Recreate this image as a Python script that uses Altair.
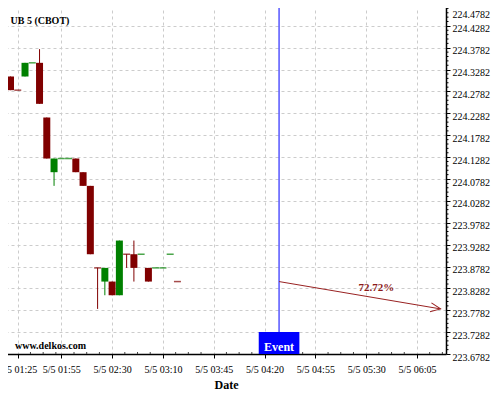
import altair as alt
import pandas as pd

# ---- data ----
opens  = [224.3125, 224.28125, 224.3125, 224.34375, 224.34375, 224.21875, 224.09375, 224.125,
          224.125, 224.125, 224.09375, 224.0625, 223.875, 223.84375, 223.84375, 223.8125,
          223.90625, 223.90625, 223.90625, 223.875, 223.875, 223.875, 223.90625, 223.84375]
highs  = [224.3125, 224.28125, 224.34375, 224.34375, 224.375, 224.21875, 224.125, 224.125,
          224.125, 224.125, 224.09375, 224.0625, 223.875, 223.875, 223.84375, 223.9375,
          223.90625, 223.9375, 223.90625, 223.875, 223.875, 223.875, 223.90625, 223.84375]
lows   = [224.28125, 224.28125, 224.3125, 224.34375, 224.25, 224.125, 224.0625, 224.125,
          224.125, 224.09375, 224.0625, 223.90625, 223.78125, 223.8125, 223.8125, 223.8125,
          223.875, 223.84375, 223.90625, 223.84375, 223.875, 223.875, 223.90625, 223.84375]
closes = [224.28125, 224.28125, 224.34375, 224.34375, 224.25, 224.125, 224.125, 224.125,
          224.125, 224.09375, 224.0625, 223.90625, 223.875, 223.875, 223.8125, 223.9375,
          223.90625, 223.875, 223.90625, 223.84375, 223.875, 223.875, 223.90625, 223.84375]
dirs   = ["d", "d", "u", "u", "d", "d", "u", "u", "u", "d", "d", "d",
          "d", "u", "d", "u", "d", "d", "u", "d", "u", "u", "u", "d"]

tick_pos    = [1, 7, 14, 21, 28, 35, 42, 49, 56]
tick_labels = ["5/5 01:25", "5/5 01:55", "5/5 02:30", "5/5 03:10", "5/5 03:45",
               "5/5 04:20", "5/5 04:55", "5/5 05:30", "5/5 06:05"]
y_ticks = [223.6782, 223.7282, 223.7782, 223.8282, 223.8782, 223.9282, 223.9782, 224.0282,
           224.0782, 224.1282, 224.1782, 224.2282, 224.2782, 224.3282, 224.3782, 224.4282, 224.4782]

event_idx = 37
event_label = "Event"
arrow_x = [37, 59.25]
arrow_y = [223.84375, 223.78125]
pct_label = "72.72%"
pct_x, pct_y = 50.4, 223.828
title_text = "UB 5 (CBOT)"
site_text = "www.delkos.com"

X_DOMAIN = [-0.62, 60]
Y_DOMAIN = [223.6782, 224.4782]
W, H = 440, 350
FONT = "Liberation Serif"
RED, GREEN, BLUE = "#800000", "#008000", "#0000ff"

df = pd.DataFrame({"i": list(range(len(opens))), "open": opens, "high": highs,
                   "low": lows, "close": closes, "dir": dirs})

xs = alt.Scale(domain=X_DOMAIN, nice=False, zero=False, padding=0)
ys = alt.Scale(domain=Y_DOMAIN, nice=False, zero=False, padding=0)
cs = alt.Scale(domain=["u", "d"], range=[GREEN, RED])

label_expr = "{" + ",".join(f"'{p}':'{l}'" for p, l in zip(tick_pos, tick_labels)) + "}[datum.value]"

x_axis = alt.Axis(values=tick_pos, labelExpr=label_expr, title="Date", grid=True,
                  gridDash=[3, 3], gridColor="#cccccc", gridWidth=1,
                  domainColor="black", domainWidth=1.5, tickColor="black", tickSize=4,
                  labelFont=FONT, labelFontSize=10, labelColor="black", labelPadding=6,
                  labelFlush=False, labelOverlap=False,
                  titleFont=FONT, titleFontSize=12, titleFontWeight="bold",
                  titleColor="black", titlePadding=5)
y_axis = alt.Axis(orient="right", values=y_ticks, format=".4f", title=None, grid=True,
                  gridDash=[3, 3], gridColor="#cccccc", gridWidth=1,
                  domainColor="black", domainWidth=1.5, tickColor="black", tickSize=4,
                  labelFont=FONT, labelFontSize=10, labelColor="black", labelPadding=2,
                  labelBaseline="middle",
                  labelOffset={"condition": {"test": "datum.value > 224.45", "value": 10}, "value": 3},
                  labelFlush=False, labelOverlap=False)

X = lambda f: alt.X(f, scale=xs, axis=x_axis)
Y = lambda f: alt.Y(f, scale=ys, axis=y_axis)

base = alt.Chart(df)

wicks = base.transform_filter("datum.high != datum.low").mark_rule(strokeWidth=1).encode(
    x=X("i:Q"), y=Y("low:Q"), y2="high:Q",
    color=alt.Color("dir:N", scale=cs, legend=None),
)
bodies = base.transform_filter("datum.open != datum.close").mark_bar(size=7).encode(
    x=X("i:Q"), y=Y("open:Q"), y2="close:Q",
    color=alt.Color("dir:N", scale=cs, legend=None),
)
dojis = base.transform_filter("datum.open == datum.close").mark_tick(
    size=7, thickness=1.5, orient="horizontal").encode(
    x=X("i:Q"), y=Y("open:Q"),
    color=alt.Color("dir:N", scale=cs, legend=None),
)

# minor ticks (axis decoration)
x_minor = pd.DataFrame({"m": [p + 1.75 * k for p in [-6] + tick_pos for k in (1, 2, 3)
                              if X_DOMAIN[0] < p + 1.75 * k < X_DOMAIN[1]]})
xminor = alt.Chart(x_minor).mark_rule(color="#444444", strokeWidth=1).encode(
    x=X("m:Q"), y=alt.value(H - 2), y2=alt.value(H))
y_minor = pd.DataFrame({"v": [round(t + 0.01 * k, 4) for t in y_ticks[:-1] for k in (1, 2, 3, 4)]})
yminor = alt.Chart(y_minor).mark_rule(color="black", strokeWidth=1).encode(
    y=Y("v:Q"), x=alt.value(W), x2=alt.value(W + 2.5))

ev = pd.DataFrame({"i": [event_idx], "label": [event_label]})
ev_base = alt.Chart(ev)
ev_line = ev_base.mark_rule(color=BLUE, strokeWidth=1).encode(
    x=X("i:Q"), y=alt.value(0), y2=alt.value(328))
ev_box = ev_base.transform_calculate(a="datum.i - 2.8", b="datum.i + 2.8").mark_rect(color=BLUE).encode(
    x=X("a:Q"), x2="b:Q", y=alt.value(328), y2=alt.value(H))
ev_text = ev_base.mark_text(font=FONT, fontSize=12, fontWeight="bold", color="white",
                            baseline="middle").encode(
    x=X("i:Q"), y=alt.value(343), text="label:N")

arr = pd.DataFrame({"x": arrow_x, "y": arrow_y, "o": [0, 1]})
arrow_line = alt.Chart(arr).mark_line(color="#992222", strokeWidth=1).encode(
    x=X("x:Q"), y=Y("y:Q"), order="o:Q")
arrow_head = alt.Chart(arr.iloc[[1]]).mark_point(
    shape="M-1,-0.45L0,0L-1,0.45", filled=False, size=400, strokeWidth=1,
    color="#992222", angle=9.6, opacity=1).encode(x=X("x:Q"), y=Y("y:Q"))

pct = alt.Chart(pd.DataFrame({"x": [pct_x], "y": [pct_y], "t": [pct_label]})).mark_text(
    font=FONT, fontSize=11, fontWeight="bold", color="#8b1a1a", baseline="middle").encode(
    x=X("x:Q"), y=Y("y:Q"), text="t:N")

title_mark = alt.Chart(pd.DataFrame({"t": [title_text]})).mark_text(
    font=FONT, fontSize=10, fontWeight="bold", color="black",
    align="left", baseline="alphabetic").encode(
    x=alt.value(4.5), y=alt.value(19.5), text="t:N")
site_mark = alt.Chart(pd.DataFrame({"t": [site_text]})).mark_text(
    font=FONT, fontSize=10, fontWeight="bold", color="black",
    align="left", baseline="alphabetic").encode(
    x=alt.value(9), y=alt.value(345), text="t:N")

chart = alt.layer(
    wicks, bodies, dojis, xminor, yminor, ev_line, ev_box, ev_text,
    arrow_line, arrow_head, pct, title_mark, site_mark
).properties(
    width=W, height=H,
    autosize=alt.AutoSizeParams(type="none"),
    padding={"left": -2, "top": -4, "right": 46, "bottom": 38},
    background="white",
).configure_view(stroke=None)

chart.save("out.html", embed_options={"renderer": "svg", "actions": False})
